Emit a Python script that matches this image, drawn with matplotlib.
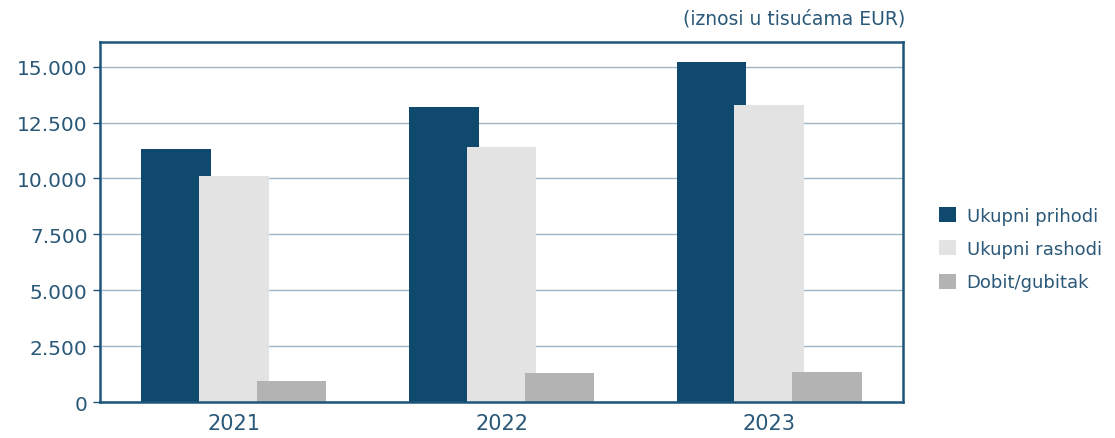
import matplotlib.pyplot as plt
import numpy as np
from matplotlib.ticker import FuncFormatter

years = ['2021', '2022', '2023']
prihodi = [11300, 13200, 15200]
rashodi = [10100, 11400, 13300]
dobit = [950, 1300, 1350]

series_names = ['Ukupni prihodi', 'Ukupni rashodi', 'Dobit/gubitak']
colors = ['#0f4a6e', '#e3e3e3', '#b3b3b3']
text_color = '#2a5878'
frame_color = '#1d557a'

fig = plt.figure(figsize=(11.15, 4.39), dpi=100)
ax = fig.add_axes([0.0897, 0.082, 0.7203, 0.820])

# bars overlap slightly, later series drawn on top
x = np.arange(len(years))
width = 0.26
step = 0.216
for i, (vals, name, col) in enumerate(zip([prihodi, rashodi, dobit], series_names, colors)):
    ax.bar(x + (i - 1) * step, vals, width, color=col, label=name, zorder=3 + i)

ax.set_xlim(-0.5, 2.5)
ax.set_ylim(0, 16100)
ax.set_yticks(np.arange(0, 15001, 2500))
ax.yaxis.set_major_formatter(FuncFormatter(lambda v, p: f'{int(v):,}'.replace(',', '.')))
ax.set_xticks(x)
ax.set_xticklabels(years)

ax.grid(axis='y', color='#9fb6c6', linewidth=1.0, zorder=0)
for s in ax.spines.values():
    s.set_color(frame_color)
    s.set_linewidth(1.8)
    s.set_zorder(10)

ax.tick_params(axis='y', colors=frame_color, labelcolor=text_color, labelsize=14.5,
               length=5, width=1, direction='out', pad=4)
ax.tick_params(axis='x', length=0, labelcolor=text_color, labelsize=15, pad=8)

fig.text(0.812, 0.935, '(iznosi u tisućama EUR)', ha='right', va='bottom',
         fontsize=13.5, color=text_color)

leg = ax.legend(loc='center left', bbox_to_anchor=(1.025, 0.425), frameon=False,
                fontsize=13, handlelength=0.9, handleheight=0.9,
                handletextpad=0.6, labelspacing=0.85, labelcolor=text_color)

fig.savefig('out.png', dpi=100)
